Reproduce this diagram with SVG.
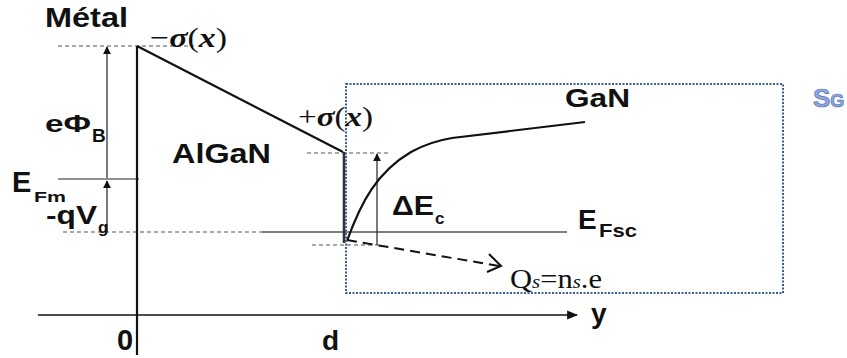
<svg xmlns="http://www.w3.org/2000/svg" width="847" height="358" viewBox="0 0 847 358">
<style>
.lbl{font-family:"Liberation Sans",Arial,sans-serif;font-weight:bold;fill:#111}
.ser{font-family:"Liberation Serif","Times New Roman",serif;fill:#111}
.thin{stroke:#222;stroke-width:1.2;fill:none}
.dash{stroke:#555;stroke-width:1.2;stroke-dasharray:4 3;fill:none}
.thick{stroke:#111;stroke-width:2.2;fill:none}
</style>
<defs>
<marker id="ah" viewBox="0 0 10 10" refX="9" refY="5" markerWidth="8" markerHeight="8" markerUnits="userSpaceOnUse" orient="auto">
<path d="M0,0 L10,5 L0,10 z" fill="#111"/>
</marker>
<marker id="ahBig" viewBox="0 0 10 10" refX="9" refY="5" markerWidth="11" markerHeight="11" markerUnits="userSpaceOnUse" orient="auto">
<path d="M0,1 L10,5 L0,9 z" fill="#111"/>
</marker>
</defs>

<g id="connectors">
<line class="dash" x1="58" y1="46" x2="194" y2="46"/>
<line class="dash" x1="63" y1="232" x2="262" y2="232"/>
<line class="dash" x1="307" y1="153" x2="388" y2="153"/>
<line class="dash" x1="312" y1="245" x2="381" y2="245"/>
<line class="thin" x1="58" y1="179" x2="139" y2="179"/>
<line x1="262" y1="232" x2="567" y2="232" stroke="#555" stroke-width="1.4"/>
<line class="thin" x1="107" y1="178" x2="107" y2="47" marker-end="url(#ah)"/>
<line class="thin" x1="107" y1="232" x2="107" y2="181" marker-end="url(#ah)"/>
<line class="thin" x1="377" y1="245" x2="377" y2="154" marker-end="url(#ah)"/>
<line class="thick" x1="137" y1="46" x2="137" y2="355"/>
<line class="thick" x1="137" y1="46" x2="343" y2="152"/>
<line x1="344" y1="152" x2="344" y2="243" stroke="#333" stroke-width="2.6"/>
<path class="thick" d="M347,241 C361,202 377,172 411,152 C427,143 440,140 452,138 L585,122"/>
<line x1="347" y1="240" x2="499" y2="266" stroke="#111" stroke-width="2" stroke-dasharray="10 6"/>
<polyline points="489,254 501,266 487,272" fill="none" stroke="#111" stroke-width="2"/>
<line x1="38" y1="315" x2="577" y2="315" stroke="#111" stroke-width="1.6" marker-end="url(#ahBig)"/>
</g>

<g id="gan-region">
<rect x="346" y="84" width="437" height="209" fill="none" stroke="#3b5f99" stroke-width="2" stroke-dasharray="2 1.5"/>
</g>

<g id="labels">
<text class="lbl" x="45" y="27" font-size="27" textLength="83" lengthAdjust="spacingAndGlyphs">Métal</text>
<text class="ser" x="150" y="47" font-size="28" textLength="77" lengthAdjust="spacingAndGlyphs"><tspan>−</tspan><tspan font-style="italic" font-weight="bold">σ</tspan><tspan>(</tspan><tspan font-style="italic" font-weight="bold">x</tspan><tspan>)</tspan></text>
<text class="ser" x="298" y="126" font-size="28" textLength="75" lengthAdjust="spacingAndGlyphs"><tspan>+</tspan><tspan font-style="italic" font-weight="bold">σ</tspan><tspan>(</tspan><tspan font-style="italic" font-weight="bold">x</tspan><tspan>)</tspan></text>
<text class="lbl" x="45" y="132" font-size="23" textLength="46" lengthAdjust="spacingAndGlyphs">eΦ</text>
<text class="lbl" x="92" y="142" font-size="19">B</text>
<text class="lbl" x="172" y="163" font-size="27" textLength="99" lengthAdjust="spacingAndGlyphs">AlGaN</text>
<text class="lbl" x="12" y="192" font-size="29">E</text>
<text class="lbl" x="34" y="202" font-size="15" textLength="32" lengthAdjust="spacingAndGlyphs">Fm</text>
<text class="lbl" x="46" y="224" font-size="25" textLength="51" lengthAdjust="spacingAndGlyphs">-qV</text>
<text class="lbl" x="98" y="233" font-size="17">g</text>
<text class="lbl" x="117" y="350" font-size="29">0</text>
<text class="lbl" x="322" y="350" font-size="28">d</text>
<text class="lbl" x="591" y="323" font-size="28">y</text>
<text class="lbl" x="565" y="107" font-size="26" textLength="65" lengthAdjust="spacingAndGlyphs">GaN</text>
<text class="lbl" x="392" y="215" font-size="27" textLength="42" lengthAdjust="spacingAndGlyphs">ΔE</text>
<text class="lbl" x="435" y="224" font-size="17">c</text>
<text class="lbl" x="578" y="229" font-size="28">E</text>
<text class="lbl" x="599" y="237" font-size="18" textLength="38" lengthAdjust="spacingAndGlyphs">Fsc</text>
<text class="ser" x="510" y="288" font-size="28" textLength="92" lengthAdjust="spacingAndGlyphs">Q<tspan font-size="19" font-style="italic">s</tspan>=n<tspan font-size="19" font-style="italic">s</tspan>.e</text>
<text x="813" y="107" font-family="Liberation Sans,Arial,sans-serif" font-weight="bold" fill="#8ea8e6" stroke="#5b72ad" stroke-width="0.7"><tspan font-size="26">S</tspan><tspan font-size="18">G</tspan></text>
</g>
</svg>
